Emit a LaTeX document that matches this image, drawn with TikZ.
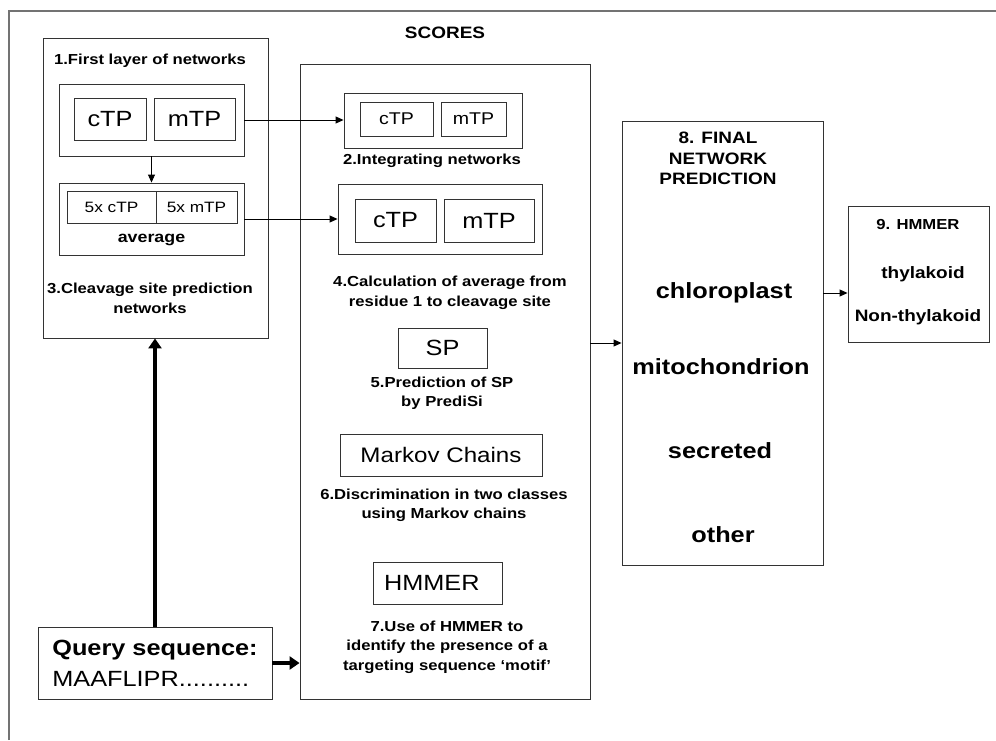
\documentclass[tikz,border=0pt]{standalone}
\usepackage{fontspec}
\setmainfont[FakeStretch=1.15]{Liberation Sans}
\usetikzlibrary{arrows.meta}
\tikzstyle{box} = [draw=black!80, line width=0.9pt, rectangle, inner sep=0pt]
\tikzstyle{lbl} = [font=\fontsize{14.5}{19.5}\selectfont\bfseries, align=center]
\tikzstyle{big} = [font=\fontsize{22}{26}\selectfont]
\tikzstyle{mid} = [font=\fontsize{17}{20}\selectfont]
\tikzstyle{small} = [font=\fontsize{15}{18}\selectfont]
\tikzstyle{cls} = [font=\fontsize{22}{26}\selectfont\bfseries]
\tikzstyle{arr} = [-{Triangle[length=8pt,width=7pt]}, line width=0.9pt]
\tikzstyle{fatarr} = [-{Triangle[length=10pt,width=13pt]}, line width=3.5pt]

\begin{document}
\begin{tikzpicture}[x=1pt,y=-1pt]
\useasboundingbox (0,0) rectangle (996,740);
\draw[black!55, line width=1.2pt] (9,740) -- (9,11) -- (996,11);

\node[box, minimum width=225, minimum height=300] (first) at (155.5,188) {};
\node[lbl] (firsttitle) at (150,61) {1.First layer of networks};
\node[box, minimum width=185, minimum height=72] (layerA) at (151.5,120) {};
\node[box, big, minimum width=72, minimum height=42] (ctpA) at (110,119) {cTP};
\node[box, big, minimum width=81, minimum height=42] (mtpA) at (194.5,119) {mTP};
\node[box, minimum width=185, minimum height=72] (layerB) at (151.5,219) {};
\node[box, small, minimum width=89, minimum height=32] (ctpB) at (111.5,207) {5x cTP};
\node[box, small, minimum width=81, minimum height=32] (mtpB) at (196.5,207) {5x mTP};
\node[lbl, font=\fontsize{15.5}{18}\selectfont\bfseries] (avg) at (151.5,240) {average};
\node[lbl] (cleav) at (150,298.5) {3.Cleavage site prediction\\networks};

\node[lbl, font=\fontsize{16.5}{20}\selectfont\bfseries] (scorestitle) at (445,33) {SCORES};
\node[box, minimum width=290, minimum height=635] (scores) at (445,381.5) {};
\node[box, minimum width=178, minimum height=55] (integ) at (433,120.5) {};
\node[box, mid, minimum width=73, minimum height=34] (ctpI) at (396.5,119) {cTP};
\node[box, mid, minimum width=65, minimum height=34] (mtpI) at (473.5,119) {mTP};
\node[lbl] (integlbl) at (432,161) {2.Integrating networks};
\node[box, minimum width=204, minimum height=70] (calc) at (440,219) {};
\node[box, big, minimum width=81, minimum height=43] (ctpC) at (395.5,220.5) {cTP};
\node[box, big, minimum width=90, minimum height=43] (mtpC) at (489,220.5) {mTP};
\node[lbl] (calclbl) at (450,293) {4.Calculation of average from\\residue 1 to cleavage site};
\node[box, big, minimum width=89, minimum height=40] (sp) at (442.5,348) {SP};
\node[lbl] (splbl) at (442,393) {5.Prediction of SP\\by PrediSi};
\node[box, font=\fontsize{21}{24}\selectfont, minimum width=202, minimum height=42] (markov) at (441,455) {Markov Chains};
\node[lbl] (markovlbl) at (444,505.5) {6.Discrimination in two classes\\using Markov chains};
\node[box, big, minimum width=129, minimum height=42, text width=107] (hmmer) at (437.5,583) {HMMER};
\node[lbl] (hmmerlbl) at (447,647) {7.Use of HMMER to\\identify the presence of a\\targeting sequence ‘motif’};

\node[box, font=\fontsize{22}{26}\selectfont, minimum width=234, minimum height=72, align=left] (query) at (155,663)
  {\bfseries Query sequence:\\[5pt]MAAFLIPR..........};

\node[box, minimum width=201, minimum height=444] (final) at (722.5,343) {};
\node[lbl, font=\fontsize{16.5}{20.5}\selectfont\bfseries] (finaltitle) at (718,158.5) {8. FINAL\\NETWORK\\PREDICTION};
\node[cls] (chl) at (724,293) {chloroplast};
\node[cls] (mito) at (721,367) {mitochondrion};
\node[cls] (secr) at (720,451) {secreted};
\node[cls] (other) at (723,535) {other};

\node[box, minimum width=141, minimum height=136] (thyl) at (918.5,274) {};
\node[lbl] (thyltitle) at (918,225) {9. HMMER};
\node[lbl, font=\fontsize{16.5}{20}\selectfont\bfseries] (thy) at (923,274) {thylakoid};
\node[lbl, font=\fontsize{16.5}{20}\selectfont\bfseries] (nonthy) at (918,317) {Non-thylakoid};

\draw[arr] (layerA.south) -- (layerB.north);
\draw[arr] (layerA.east) -- (layerA.east -| integ.west);
\draw[arr] (layerB.east) -- (layerB.east -| calc.west);
\draw[arr] (final.west -| scores.east) -- (final.west);
\draw[arr] (chl -| final.east) -- (chl -| thyl.west);
\draw[fatarr] (query.north) -- (query.north |- first.south);
\draw[fatarr] (query.east) -- (query.east -| scores.west);
\end{tikzpicture}
\end{document}
